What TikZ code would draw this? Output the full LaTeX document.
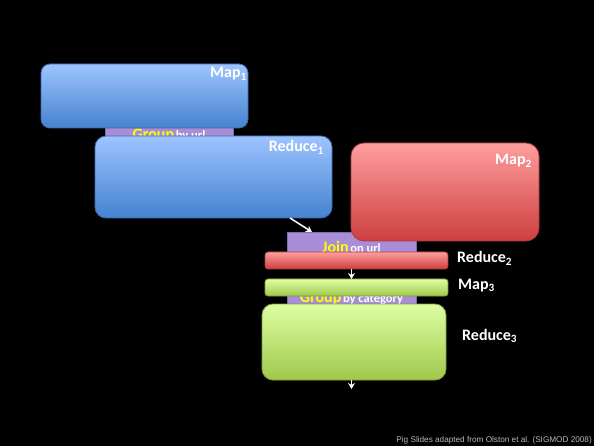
\documentclass[tikz,border=0pt]{standalone}
\usepackage{fontspec}
\setmainfont{Carlito}
\newfontfamily\footfont{Liberation Sans}
\usetikzlibrary{arrows.meta}

\definecolor{bluetop}{RGB}{158,196,255}
\definecolor{bluemid}{RGB}{130,172,240}
\definecolor{bluebot}{RGB}{68,130,208}
\definecolor{blueedge}{RGB}{60,105,170}
\definecolor{redtop}{RGB}{255,158,158}
\definecolor{redmid}{RGB}{240,125,125}
\definecolor{redbot}{RGB}{205,62,62}
\definecolor{rededge}{RGB}{175,60,60}
\definecolor{greentop}{RGB}{222,255,164}
\definecolor{greenmid}{RGB}{205,240,140}
\definecolor{greenbot}{RGB}{160,200,75}
\definecolor{greenedge}{RGB}{125,160,60}
\definecolor{purplefill}{RGB}{168,142,216}
\definecolor{purpleedge}{RGB}{130,105,180}
\definecolor{opyellow}{RGB}{255,255,0}
\definecolor{footgray}{RGB}{185,185,185}

\tikzset{
  box/.style={draw, line width=0.8pt, inner sep=0pt, outer sep=0pt, anchor=north west},
  bluebox/.style={box, draw=blueedge, top color=bluetop, middle color=bluemid, bottom color=bluebot},
  redbox/.style={box, draw=rededge, top color=redtop, middle color=redmid, bottom color=redbot},
  greenbox/.style={box, draw=greenedge, top color=greentop, middle color=greenmid, bottom color=greenbot},
  opbox/.style={box, draw=purpleedge, fill=purplefill, line width=0.6pt},
  lbl/.style={text=white, font=\bfseries\fontsize{16}{18}\selectfont, inner sep=0pt},
  optext/.style={inner sep=0pt, anchor=base},
  flow/.style={draw=white, line width=1.5pt, -{Stealth[length=6pt,width=7pt]}},
}
\newcommand{\opname}[2]{{\bfseries\fontsize{16}{18}\selectfont\color{opyellow}#1}\,{\bfseries\fontsize{12.5}{14}\selectfont\color{white}#2}}

\begin{document}
\begin{tikzpicture}[x=1pt,y=-1pt]
  \useasboundingbox (0,0) rectangle (594,446);
  \fill[black] (0,0) rectangle (594,446);

  % first job: group by url
  \node[opbox, minimum width=128pt, minimum height=22pt] (g1) at (105,120) {};
  \node[optext] (g1t) at (169,139.5) {\opname{Group}{by url}};
  \node[bluebox, rounded corners=9pt, minimum width=207pt, minimum height=64pt] (m1) at (41,64) {};
  \node[lbl, anchor=base east] (m1l) at (247,78) {Map\textsubscript{1}};
  \node[bluebox, rounded corners=11pt, minimum width=237pt, minimum height=82pt] (r1) at (95,136) {};
  \node[lbl, anchor=base east] (r1l) at (324,151.5) {Reduce\textsubscript{1}};

  % second job: join on url
  \node[opbox, minimum width=129pt, minimum height=28pt] (j) at (287,232) {};
  \node[optext] (jt) at (351.5,252.5) {\opname{Join}{on url}};
  \node[redbox, rounded corners=13pt, minimum width=188pt, minimum height=98pt] (m2) at (351,143) {};
  \node[lbl, anchor=base east] (m2l) at (532,165) {Map\textsubscript{2}};
  \node[redbox, rounded corners=3pt, minimum width=183pt, minimum height=17pt] (r2) at (265,252) {};
  \node[lbl, anchor=base west] (r2l) at (457,263) {Reduce\textsubscript{2}};

  % third job: group by category
  \node[opbox, minimum width=129pt, minimum height=20pt] (g3) at (287,290) {};
  \node[optext] (g3t) at (351.5,302.5) {\opname{Group}{by category}};
  \node[greenbox, rounded corners=3pt, minimum width=183pt, minimum height=17pt] (m3) at (265,279) {};
  \node[lbl, anchor=base west] (m3l) at (458,289) {Map\textsubscript{3}};
  \node[greenbox, rounded corners=11pt, minimum width=184pt, minimum height=76pt] (r3) at (262,304) {};
  \node[lbl, anchor=base west] (r3l) at (462,340) {Reduce\textsubscript{3}};

  % data flow
  \coordinate (out) at (351.5,389);
  \draw[flow] ([xshift=-42pt]r1.south east) -- ([xshift=25pt]j.north west);
  \draw[flow] (j.center |- r2.south) -- (j.center |- m3.north);
  \draw[flow] (j.center |- r3.south) -- (out);

  % credit line
  \node[anchor=east, inner sep=0pt, text=footgray, font=\footfont\fontsize{8.2}{10}\selectfont] (credit) at (592,440.5)
    {Pig Slides adapted from Olston et al. (SIGMOD 2008)};
\end{tikzpicture}
\end{document}
